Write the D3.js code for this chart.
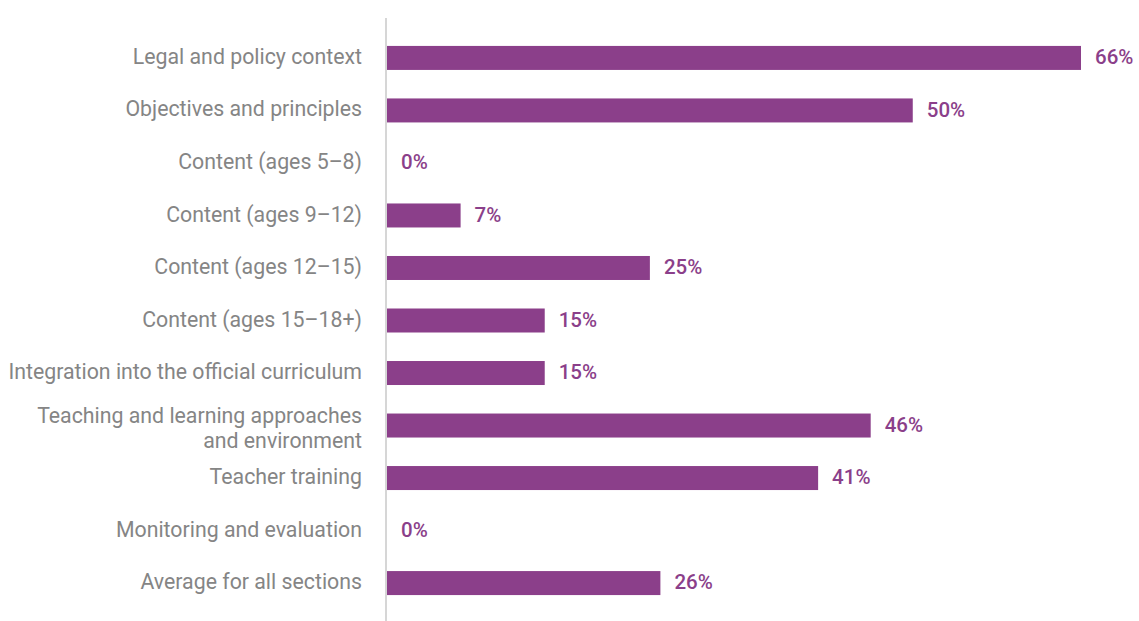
<!DOCTYPE html>
<html>
<head>
<meta charset="utf-8">
<script src="https://cdn.jsdelivr.net/npm/d3@7"></script>
<style>
  body { margin: 0; background: #fff; }
  svg { display: block; }
</style>
</head>
<body>
<div id="chart"></div>
<script>
const categories = [
    "Legal and policy context",
    "Objectives and principles",
    "Content (ages 5–8)",
    "Content (ages 9–12)",
    "Content (ages 12–15)",
    "Content (ages 15–18+)",
    "Integration into the official curriculum",
    "Teaching and learning approaches\nand environment",
    "Teacher training",
    "Monitoring and evaluation",
    "Average for all sections"
];
const values = [66, 50, 0, 7, 25, 15, 15, 46, 41, 0, 26];

const width = 1139;
const height = 621;
const purple = "#8b3f8a";

const svg = d3.select("#chart")
    .append("svg")
    .attr("width", width)
    .attr("height", height);

const x = d3.scaleLinear()
    .domain([0, 66])
    .range([387, 1081]);

const y = d3.scaleBand()
    .domain(categories)
    .range([31.75, 609.25])
    .paddingInner(0.543)
    .paddingOuter(0.27);

// axis line
svg.append("line")
    .attr("x1", 386).attr("x2", 386)
    .attr("y1", 18).attr("y2", height)
    .attr("stroke", "#c8c8c8")
    .attr("stroke-width", 1.5);

svg.selectAll(".bar")
    .data(values)
    .enter()
    .append("rect")
    .attr("class", "bar")
    .attr("x", x(0))
    .attr("y", (d, i) => y(categories[i]))
    .attr("width", d => x(d) - x(0))
    .attr("height", y.bandwidth())
    .attr("fill", purple);

svg.selectAll(".value")
    .data(values)
    .enter()
    .append("text")
    .attr("class", "value")
    .attr("x", d => x(d) + 14)
    .attr("y", (d, i) => y(categories[i]) + y.bandwidth() / 2)
    .attr("dy", "0.3em")
    .attr("fill", purple)
    .style("font-family", "Roboto, sans-serif")
    .style("font-weight", 500)
    .style("font-size", "20.5px")
    .text(d => d + "%");

const labels = svg.selectAll(".label")
    .data(categories)
    .enter()
    .append("text")
    .attr("class", "label")
    .attr("text-anchor", "end")
    .attr("fill", "#858585")
    .style("font-family", "Roboto, sans-serif")
    .style("font-size", "21.3px");

labels.each(function(d) {
    const lines = d.split("\n");
    const cy = y(d) + y.bandwidth() / 2;
    const lh = 25;
    const shift = lines.length > 1 ? 3 : -1;
    lines.forEach((line, j) => {
        d3.select(this).append("tspan")
            .attr("x", 362)
            .attr("y", cy + shift + (j - (lines.length - 1) / 2) * lh)
            .attr("dy", "0.33em")
            .text(line);
    });
});
</script>
</body>
</html>
